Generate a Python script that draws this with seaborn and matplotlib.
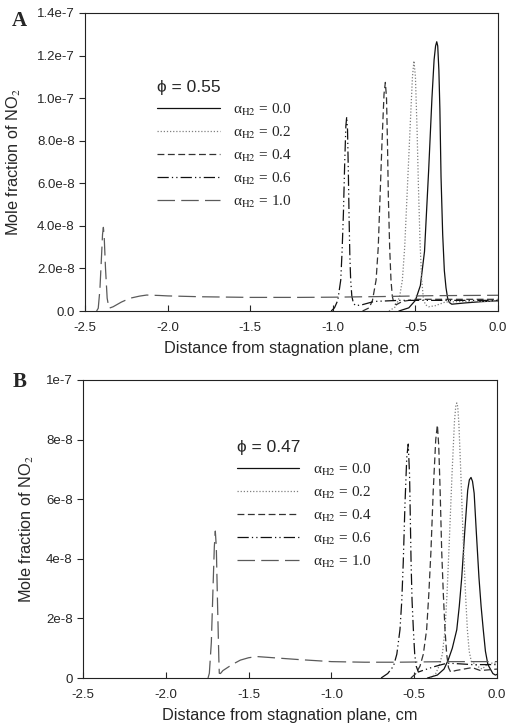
import matplotlib
matplotlib.use('Agg')
import matplotlib.pyplot as plt
import numpy as np
import pandas as pd
import seaborn as sns

sns.set_style('ticks')
plt.rcParams['font.family'] = ['Liberation Sans', 'DejaVu Sans']
plt.rcParams['mathtext.fontset'] = 'stix'

# ---- data (x in cm, y in units of 1e-8) ----
# panel A, phi = 0.55
a00_x = [-0.60, -0.54, -0.50, -0.47, -0.445, -0.42, -0.40, -0.387, -0.378, -0.371, -0.365, -0.358, -0.352, -0.345, -0.335, -0.325, -0.315, -0.305, -0.295, -0.28, -0.2, -0.1, 0.0]
a00_y = [0.0, 0.15, 0.5, 1.2, 2.8, 6.6, 10.0, 11.8, 12.45, 12.65, 12.45, 11.3, 9.5, 6.3, 3.6, 1.9, 1.1, 0.6, 0.4, 0.32, 0.38, 0.44, 0.48]
a02_x = [-0.66, -0.62, -0.595, -0.579, -0.565, -0.548, -0.53, -0.518, -0.509, -0.50, -0.49, -0.482, -0.472, -0.462, -0.452, -0.44, -0.42, -0.38, -0.32, -0.2, 0.0]
a02_y = [0.0, 0.2, 0.7, 1.46, 3.0, 5.9, 9.0, 11.0, 11.75, 11.0, 8.5, 5.9, 3.2, 1.46, 0.6, 0.3, 0.2, 0.25, 0.42, 0.45, 0.45]
a04_x = [-0.82, -0.78, -0.76, -0.738, -0.725, -0.714, -0.702, -0.69, -0.682, -0.675, -0.669, -0.664, -0.656, -0.648, -0.64, -0.63, -0.615, -0.58, -0.5, -0.3, 0.0]
a04_y = [0.0, 0.15, 0.5, 1.46, 3.0, 5.4, 8.0, 10.2, 10.74, 10.0, 7.8, 5.4, 3.0, 1.46, 0.7, 0.35, 0.3, 0.45, 0.55, 0.55, 0.55]
a06_x = [-1.01, -0.99, -0.97, -0.952, -0.944, -0.936, -0.928, -0.921, -0.916, -0.911, -0.906, -0.902, -0.897, -0.892, -0.885, -0.875, -0.86, -0.82, -0.75, -0.6, -0.3, 0.0]
a06_y = [0.0, 0.15, 0.5, 1.46, 2.8, 4.56, 7.0, 8.7, 9.12, 8.5, 6.5, 4.56, 2.6, 1.46, 0.7, 0.35, 0.25, 0.3, 0.45, 0.5, 0.5, 0.5]
a10_x = [-2.43, -2.42, -2.41, -2.40, -2.394, -2.389, -2.384, -2.376, -2.366, -2.355, -2.33, -2.28, -2.228, -2.17, -2.127, -2.05, -2.0, -1.8, -1.5, -1.2, -1.0, -0.7, -0.4, 0.0]
a10_y = [0.0, 0.13, 1.0, 2.6, 3.6, 3.93, 3.5, 2.0, 0.6, 0.13, 0.2, 0.42, 0.6, 0.7, 0.75, 0.73, 0.71, 0.67, 0.64, 0.64, 0.65, 0.68, 0.72, 0.74]

# panel B, phi = 0.47
b00_x = [-0.42, -0.36, -0.32, -0.295, -0.27, -0.243, -0.228, -0.213, -0.195, -0.177, -0.167, -0.157, -0.148, -0.138, -0.125, -0.109, -0.096, -0.083, -0.07, -0.055, -0.04, -0.025, -0.01, 0.0]
b00_y = [0.0, 0.1, 0.3, 0.6, 1.0, 1.62, 2.4, 3.37, 4.9, 6.3, 6.65, 6.73, 6.6, 6.2, 4.9, 3.37, 2.4, 1.62, 0.9, 0.45, 0.3, 0.15, 0.1, 0.12]
b02_x = [-0.40, -0.37, -0.35, -0.33, -0.314, -0.302, -0.288, -0.272, -0.257, -0.249, -0.243, -0.237, -0.23, -0.218, -0.204, -0.19, -0.179, -0.168, -0.155, -0.14, -0.12, -0.09, -0.06, -0.03, 0.0]
b02_y = [0.0, 0.15, 0.4, 0.8, 1.62, 2.8, 4.6, 6.8, 8.6, 9.12, 9.23, 9.1, 8.5, 6.8, 4.6, 2.8, 1.62, 0.9, 0.55, 0.5, 0.4, 0.3, 0.45, 0.5, 0.5]
b04_x = [-0.52, -0.49, -0.465, -0.445, -0.425, -0.412, -0.399, -0.385, -0.37, -0.36, -0.352, -0.343, -0.334, -0.324, -0.314, -0.304, -0.293, -0.28, -0.25, -0.2, -0.15, -0.1, 0.0]
b04_y = [0.0, 0.15, 0.4, 0.8, 1.62, 2.8, 4.25, 6.3, 8.0, 8.49, 7.8, 6.2, 4.25, 2.8, 1.62, 0.8, 0.35, 0.2, 0.25, 0.3, 0.35, 0.25, 0.3]
b06_x = [-0.70, -0.66, -0.625, -0.605, -0.586, -0.575, -0.566, -0.556, -0.545, -0.536, -0.528, -0.523, -0.519, -0.513, -0.505, -0.497, -0.488, -0.475, -0.45, -0.38, -0.3, -0.15, 0.0]
b06_y = [0.0, 0.15, 0.4, 0.8, 1.62, 2.6, 3.9, 5.8, 7.4, 7.85, 6.8, 5.2, 3.9, 2.6, 1.62, 0.8, 0.4, 0.2, 0.25, 0.38, 0.5, 0.45, 0.45]
b10_x = [-1.745, -1.737, -1.725, -1.715, -1.707, -1.701, -1.695, -1.688, -1.68, -1.677, -1.67, -1.655, -1.6, -1.55, -1.5, -1.45, -1.4, -1.3, -1.2, -1.0, -0.8, -0.6, -0.3, 0.0]
b10_y = [0.0, 0.16, 1.2, 3.0, 4.4, 4.93, 4.4, 2.6, 0.7, 0.16, 0.15, 0.25, 0.45, 0.6, 0.68, 0.72, 0.7, 0.66, 0.62, 0.55, 0.53, 0.53, 0.55, 0.55]

alpha_labels = ['0.0', '0.2', '0.4', '0.6', '1.0']
x_ticks = [-2.5, -2.0, -1.5, -1.0, -0.5, 0.0]
x_ticklabels = ['-2.5', '-2.0', '-1.5', '-1.0', '-0.5', '0.0']
a_yticks = [0, 2, 4, 6, 8, 10, 12, 14]
a_yticklabels = ['0.0', '2.0e-8', '4.0e-8', '6.0e-8', '8.0e-8', '1.0e-7', '1.2e-7', '1.4e-7']
b_yticks = [0, 2, 4, 6, 8, 10]
b_yticklabels = ['0', '2e-8', '4e-8', '6e-8', '8e-8', '1e-7']

styles = [
    dict(color='#111111', linestyle='-', lw=0.9),
    dict(color='#808080', linestyle=(0, (1, 1.5)), lw=0.9),
    dict(color='#333333', linestyle=(0, (5.5, 2.8)), lw=0.9),
    dict(color='#111111', linestyle=(0, (9, 2.5, 1, 2.5, 1, 2.5)), lw=0.9),
    dict(color='#5a5a5a', linestyle=(0, (14, 5)), lw=0.9),
]

fig = plt.figure(figsize=(5.07, 7.26), dpi=100)
axA = fig.add_axes([0.1677, 0.5716, 0.8146, 0.4105])
axB = fig.add_axes([0.1637, 0.0661, 0.8166, 0.4105])


def draw(ax, curves, yticks, yticklabels, ymax, phi, leg_xy, ypad):
    for (xs, ys), st, lab in zip(curves, styles, alpha_labels):
        df = pd.DataFrame({'x': xs, 'y': np.array(ys) * 1e-8})
        sns.lineplot(data=df, x='x', y='y', ax=ax, estimator=None, sort=False,
                     label=u'\u03b1$_{\\mathrm{H2}}$ = ' + lab, **st)
    ax.set_xlim(-2.5, 0.0)
    ax.set_ylim(0, ymax * 1e-8)
    ax.set_xticks(x_ticks)
    ax.set_xticklabels(x_ticklabels)
    ax.set_yticks(np.array(yticks) * 1e-8)
    ax.set_yticklabels(yticklabels)
    ax.tick_params(axis='x', direction='in', length=4, labelsize=9.5, pad=8)
    ax.tick_params(axis='y', direction='out', length=4, labelsize=9.5)
    for s in ax.spines.values():
        s.set_visible(True)
        s.set_color('#222222')
        s.set_linewidth(0.8)
    ax.set_xlabel('Distance from stagnation plane, cm', fontsize=11.7, labelpad=5)
    ax.set_ylabel('Mole fraction of NO$_2$', fontsize=11.7, labelpad=ypad)
    ax.legend(title=u'\u03d5 = ' + phi, loc='upper left', bbox_to_anchor=leg_xy,
              frameon=False, handlelength=4.1, handletextpad=0.9,
              labelspacing=0.45, alignment='left',
              prop={'family': 'Liberation Serif', 'size': 11},
              title_fontproperties={'family': ['Liberation Sans', 'DejaVu Sans'], 'size': 12.5})


draw(axA, [(a00_x, a00_y), (a02_x, a02_y), (a04_x, a04_y), (a06_x, a06_y), (a10_x, a10_y)],
     a_yticks, a_yticklabels, 14, '0.55', (0.141, 0.822), 10)
draw(axB, [(b00_x, b00_y), (b02_x, b02_y), (b04_x, b04_y), (b06_x, b06_y), (b10_x, b10_y)],
     b_yticks, b_yticklabels, 10, '0.47', (0.338, 0.846), 7)

fig.text(0.024, 0.985, 'A', fontsize=15, fontweight='bold', family='Liberation Serif', va='top')
fig.text(0.024, 0.487, 'B', fontsize=15, fontweight='bold', family='Liberation Serif', va='top')

fig.savefig('out.png', dpi=100)
